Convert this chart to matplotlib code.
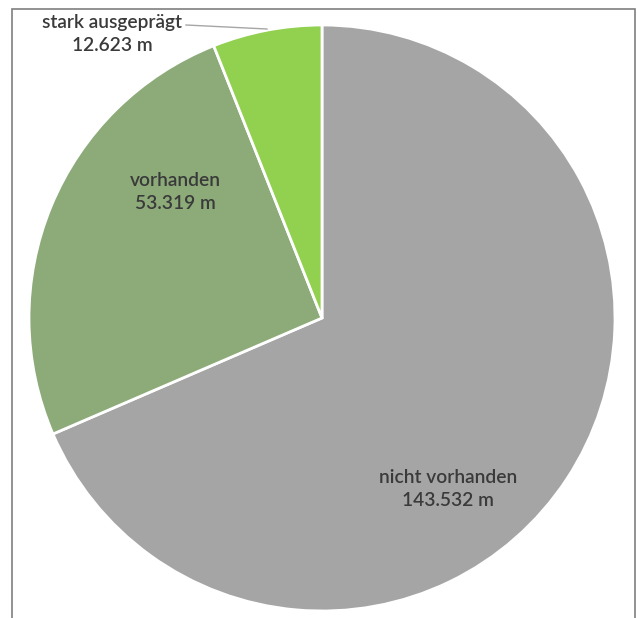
import matplotlib.pyplot as plt
from matplotlib.patches import Rectangle
from matplotlib.lines import Line2D

# Kategorien und Längen (in Metern)
categories = ['nicht vorhanden', 'vorhanden', 'stark ausgeprägt']
lengths = [143532, 53319, 12623]
value_labels = ['143.532 m', '53.319 m', '12.623 m']
colors = ['#A5A5A5', '#8CAB79', '#92D050']

W, H = 637, 618
cx, cy, r = 322, 318, 293  # Kreismitte und Radius in Pixeln


def px_to_data(px, py):
    return (px - cx) / r, (cy - py) / r


fig = plt.figure(figsize=(W / 100, H / 100), dpi=100)
ax = fig.add_axes([(cx - r) / W, (H - cy - r) / H, 2 * r / W, 2 * r / H])
ax.pie(lengths, colors=colors, startangle=90, counterclock=False, radius=1,
       wedgeprops=dict(edgecolor='white', linewidth=2))
ax.set_xlim(-1, 1)
ax.set_ylim(-1, 1)
ax.axis('off')

font = dict(family='Lato', fontsize=13.8, fontweight='semibold', color='#3A3A3A',
            ha='center', va='center', linespacing=1.4)

# Beschriftungen
pos = [(448, 489), (175, 192), (112, 34)]
for cat, val, (px, py) in zip(categories, value_labels, pos):
    x, y = px_to_data(px, py)
    ax.text(x, y, cat + '\n' + val, clip_on=False, **font)

# Führungslinie für den kleinsten Sektor
x0, y0 = px_to_data(186, 25)
x1, y1 = px_to_data(267, 29)
ax.add_line(Line2D([x0, x1], [y0, y1], color='#A6A6A6', lw=1, clip_on=False))

# Rahmen
fig.add_artist(Rectangle((12 / W, -0.05), (635 - 12) / W, (H - 9) / H + 0.05,
                         transform=fig.transFigure, fill=False,
                         edgecolor='#7F7F7F', lw=1.2))

fig.savefig('out.png', dpi=100)
